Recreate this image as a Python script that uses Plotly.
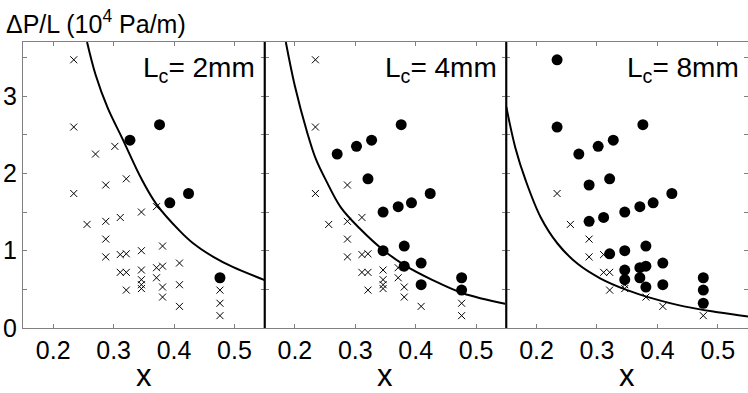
import plotly.graph_objs as go
from plotly.subplots import make_subplots

# measured points, shared by the three panels
x_pts = [0.234, 0.234, 0.234, 0.256, 0.270, 0.287, 0.287, 0.287, 0.287, 0.302,
         0.311, 0.311, 0.311, 0.321, 0.321, 0.321, 0.321, 0.327, 0.346, 0.346,
         0.346, 0.346, 0.346, 0.346, 0.371, 0.371, 0.371, 0.376, 0.381, 0.381,
         0.381, 0.381, 0.393, 0.409, 0.409, 0.409, 0.424, 0.476, 0.476, 0.476,
         0.476]
y_pts = [3.47, 2.60, 1.74, 1.34, 2.25, 1.85, 1.38, 1.15, 0.92, 2.35,
         1.43, 0.95, 0.72, 1.93, 0.96, 0.72, 0.49, 2.43, 1.50, 1.00,
         0.75, 0.625, 0.56, 0.51, 1.57, 0.78, 0.65, 2.63, 1.06, 0.80,
         0.53, 0.40, 1.62, 0.84, 0.56, 0.28, 1.74, 0.65, 0.49, 0.32,
         0.16]

# 1 = filled dot, 0 = cross
dots_2mm = [0, 0, 0, 0, 0, 0, 0, 0, 0, 0,
            0, 0, 0, 0, 0, 0, 0, 1, 0, 0,
            0, 0, 0, 0, 0, 0, 0, 1, 0, 0,
            0, 0, 1, 0, 0, 0, 1, 1, 0, 0,
            0]
dots_4mm = [0, 0, 0, 0, 1, 0, 0, 0, 0, 1,
            0, 0, 0, 1, 0, 0, 0, 1, 1, 1,
            0, 0, 0, 0, 1, 0, 0, 1, 1, 1,
            0, 0, 1, 1, 1, 0, 1, 1, 1, 0,
            0]
dots_8mm = [1, 1, 0, 0, 1, 1, 1, 0, 0, 1,
            1, 0, 0, 1, 1, 0, 0, 1, 1, 1,
            1, 1, 0, 0, 1, 1, 1, 1, 1, 1,
            1, 0, 1, 1, 1, 0, 1, 1, 1, 1,
            0]

# threshold curves
curve_x_2mm = [0.256, 0.27, 0.29, 0.3145, 0.346, 0.371, 0.409, 0.431, 0.465, 0.497, 0.55]
curve_y_2mm = [3.70, 3.28, 2.85, 2.45, 1.93, 1.60, 1.26, 1.10, 0.92, 0.79, 0.62]
curve_x_4mm = [0.185, 0.20, 0.22, 0.235, 0.2515, 0.276, 0.307, 0.346, 0.382, 0.428, 0.478, 0.55]
curve_y_4mm = [3.70, 3.13, 2.54, 2.18, 1.91, 1.56, 1.29, 1.01, 0.81, 0.62, 0.45, 0.31]
curve_x_8mm = [0.15, 0.165, 0.182, 0.207, 0.235, 0.268, 0.306, 0.35, 0.389, 0.444, 0.50, 0.55]
curve_y_8mm = [2.86, 2.33, 1.91, 1.43, 1.09, 0.83, 0.64, 0.49, 0.39, 0.28, 0.205, 0.15]

panels = [("2", dots_2mm, curve_x_2mm, curve_y_2mm),
          ("4", dots_4mm, curve_x_4mm, curve_y_4mm),
          ("8", dots_8mm, curve_x_8mm, curve_y_8mm)]

x_ticks = [0.2, 0.3, 0.4, 0.5]
y_ticks = [0, 1, 2, 3]

FONT = "Liberation Sans, Arial, sans-serif"
GREY = "#808080"

fig = make_subplots(rows=1, cols=3, shared_yaxes=True, horizontal_spacing=0)

for i, (lc, flags, cx, cy) in enumerate(panels, start=1):
    xc = [x for x, f in zip(x_pts, flags) if f == 0]
    yc = [y for y, f in zip(y_pts, flags) if f == 0]
    xd = [x for x, f in zip(x_pts, flags) if f == 1]
    yd = [y for y, f in zip(y_pts, flags) if f == 1]
    fig.add_trace(go.Scatter(x=xc, y=yc, mode="markers",
                             marker=dict(symbol="x-thin", size=7, color="black",
                                         line=dict(width=1, color="black"))),
                  row=1, col=i)
    fig.add_trace(go.Scatter(x=xd, y=yd, mode="markers",
                             marker=dict(symbol="circle", size=11, color="black")),
                  row=1, col=i)
    fig.add_trace(go.Scatter(x=cx, y=cy, mode="lines",
                             line=dict(color="black", width=2, shape="spline")),
                  row=1, col=i)

    fig.update_xaxes(range=[0.15, 0.55], tickvals=x_ticks,
                     ticks="inside", ticklen=4, tickcolor=GREY,
                     showline=True, linecolor=GREY, linewidth=1, mirror="ticks",
                     showgrid=False, zeroline=False, automargin=False,
                     tickfont=dict(size=25, color="black", family=FONT),
                     row=1, col=i)
    fig.update_yaxes(range=[0, 3.7], tickvals=y_ticks,
                     ticks="inside", ticklen=4, tickcolor=GREY,
                     minor=dict(tick0=0, dtick=0.5, ticks="inside", ticklen=4,
                                tickcolor=GREY, showgrid=False),
                     showline=True, linecolor=GREY, linewidth=1, mirror="ticks",
                     showgrid=False, zeroline=False, automargin=False,
                     showticklabels=(i == 1),
                     tickfont=dict(size=25, color="black", family=FONT),
                     row=1, col=i)

    xname = "x" if i == 1 else "x%d" % i
    yname = "y" if i == 1 else "y%d" % i
    fig.add_annotation(text="L<sub>c</sub>= %smm" % lc, showarrow=False,
                       xref=xname + " domain", yref=yname + " domain",
                       x=0.97, y=0.905, xanchor="right", yanchor="middle",
                       font=dict(size=28, color="black", family=FONT))
    # axis label "x" under each panel
    fig.add_annotation(text="x", showarrow=False,
                       xref=xname + " domain", yref="paper",
                       x=0.5, y=-0.165, xanchor="center", yanchor="middle",
                       font=dict(size=31, color="black", family=FONT))

# black separators between panels
for xs in [1 / 3, 2 / 3]:
    fig.add_shape(type="line", xref="paper", yref="paper", x0=xs, x1=xs, y0=0, y1=1,
                  line=dict(color="black", width=2))

fig.add_annotation(text="ΔP/L (10<sup>4</sup> Pa/m)", showarrow=False,
                   xref="paper", yref="paper", x=-0.026, y=1.07,
                   xanchor="left", yanchor="middle",
                   font=dict(size=25, color="black", family=FONT))

fig.update_layout(width=748, height=393, showlegend=False,
                  margin=dict(l=23, r=0, t=42, b=65),
                  plot_bgcolor="white", paper_bgcolor="white",
                  font=dict(family=FONT, color="black"))

# drop the default 8px page margin so the figure sits at the window corner
fig.write_html("out.html", config={"displayModeBar": False},
               post_script="document.body.style.margin='0';")
